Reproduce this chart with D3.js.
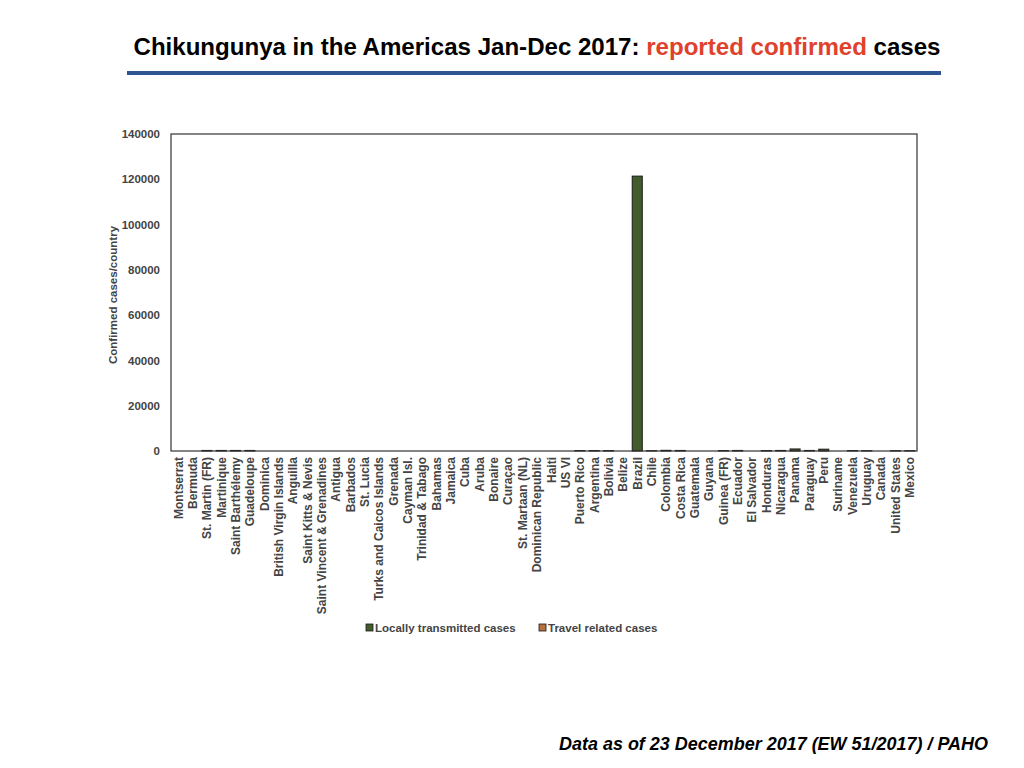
<!DOCTYPE html>
<html lang="en">
<head>
<meta charset="UTF-8">
<script src="https://d3js.org/d3.v7.min.js"></script>
<title>Chikungunya 2017</title>
<style>
  body { margin: 0; background: #fff; }
  text { font-family: "Liberation Sans", Arial, Helvetica, sans-serif; }
</style>
</head>
<body>
<svg id="chart" width="1024" height="768"></svg>
<script>
// countries in the order they appear on the x axis
const countries = ["Montserrat", "Bermuda", "St. Martin (FR)", "Martinique", "Saint Barthélemy", "Guadeloupe",
  "Dominica", "British Virgin Islands", "Anguilla", "Saint Kitts & Nevis", "Saint Vincent & Grenadines",
  "Antigua", "Barbados", "St. Lucia", "Turks and Caicos Islands", "Grenada", "Cayman Isl.", "Trinidad & Tabago",
  "Bahamas", "Jamaica", "Cuba", "Aruba", "Bonaire", "Curaçao", "St. Martaan (NL)", "Dominican Republic",
  "Haiti", "US VI", "Puerto Rico", "Argentina", "Bolivia", "Belize", "Brazil", "Chile", "Colombia",
  "Costa Rica", "Guatemala", "Guyana", "Guinea (FR)", "Ecuador", "El Salvador", "Honduras", "Nicaragua",
  "Panama", "Paraguay", "Peru", "Suriname", "Venezuela", "Uruguay", "Canada", "United States", "Mexico"];

// most are barely above zero
const locallyTransmitted = [0, 0, 250, 250, 250, 250,
  0, 0, 0, 0, 0,
  0, 0, 0, 0, 0, 0, 0,
  0, 0, 0, 0, 0, 0, 0, 0,
  0, 0, 200, 0, 200, 0, 121400, 0, 300,
  250, 0, 0, 200, 250, 0, 200, 250,
  900, 250, 800, 0, 200, 0, 0, 0, 150];

const travelRelated = [0, 0, 0, 0, 0, 0,
  0, 0, 0, 0, 0,
  0, 0, 0, 0, 0, 0, 0,
  0, 0, 0, 0, 0, 0, 0, 0,
  0, 0, 0, 200, 0, 0, 0, 150, 0,
  0, 0, 0, 0, 0, 0, 0, 0,
  0, 0, 0, 0, 0, 150, 0, 150, 0];

const seriesNames = ["Locally transmitted cases", "Travel related cases"];
const seriesColors = ["#435c2b", "#b8703c"];
const yTicks = [0, 20000, 40000, 60000, 80000, 100000, 120000, 140000];

const svg = d3.select("#chart");
const plot = { left: 171, right: 917, top: 134, bottom: 451 };

// title
const title = svg.append("text")
  .attr("x", 537).attr("y", 55)
  .attr("text-anchor", "middle")
  .attr("font-size", 23.5).attr("font-weight", "bold")
  .attr("textLength", 807).attr("lengthAdjust", "spacingAndGlyphs");
title.append("tspan").attr("fill", "#000").text("Chikungunya in the Americas Jan-Dec 2017: ");
title.append("tspan").attr("fill", "#e0412c").text("reported confirmed");
title.append("tspan").attr("fill", "#000").text(" cases");

svg.append("rect")
  .attr("x", 127).attr("y", 71).attr("width", 814).attr("height", 4)
  .attr("fill", "#2c5591");

// scales
const x = d3.scaleBand().domain(countries)
  .range([plot.left, plot.right]).paddingInner(0.3).paddingOuter(0.15);
const y = d3.scaleLinear().domain([0, 140000]).range([plot.bottom, plot.top]);

// stacked data
const rows = countries.map((c, i) => ({ country: c, local: locallyTransmitted[i], travel: travelRelated[i] }));
const stacked = d3.stack().keys(["local", "travel"])(rows);

const layers = svg.append("g").selectAll("g").data(stacked).join("g")
  .attr("fill", (d, i) => seriesColors[i]);
layers.selectAll("rect")
  .data(d => d.filter(v => v[1] - v[0] > 0))
  .join("rect")
  .attr("x", d => x(d.data.country))
  .attr("width", x.bandwidth())
  .attr("y", d => y(d[1]))
  .attr("height", d => y(d[0]) - y(d[1]))
  .attr("stroke", "#1a1a1a").attr("stroke-width", 1);

// frame
svg.append("rect")
  .attr("x", plot.left).attr("y", plot.top)
  .attr("width", plot.right - plot.left).attr("height", plot.bottom - plot.top)
  .attr("fill", "none").attr("stroke", "#333").attr("stroke-width", 1.2);

// y axis
const yAxis = svg.append("g")
  .attr("transform", `translate(${plot.left},0)`)
  .call(d3.axisLeft(y).tickValues(yTicks).tickSize(0).tickPadding(11).tickFormat(d3.format("d")));
yAxis.select(".domain").remove();
yAxis.selectAll("text")
  .attr("font-family", "Liberation Sans, Arial, sans-serif")
  .attr("font-size", 11.5).attr("font-weight", "bold").attr("fill", "#444");

svg.append("text")
  .attr("transform", "translate(117,295) rotate(-90)")
  .attr("text-anchor", "middle")
  .attr("font-size", 11.5).attr("font-weight", "bold").attr("fill", "#444")
  .text("Confirmed cases/country");

// x axis labels, rotated
const xAxis = svg.append("g")
  .attr("transform", `translate(0,${plot.bottom})`)
  .call(d3.axisBottom(x).tickSize(0).tickPadding(0));
xAxis.select(".domain").remove();
xAxis.selectAll("text")
  .attr("font-family", "Liberation Sans, Arial, sans-serif")
  .attr("font-size", 12).attr("font-weight", "bold").attr("fill", "#444")
  .attr("text-anchor", "end")
  .attr("transform", "rotate(-90)")
  .attr("x", -6).attr("y", 0).attr("dy", "0.36em");

// legend
const legendX = [366, 539];
const legend = svg.append("g").selectAll("g").data(seriesNames).join("g")
  .attr("transform", (d, i) => `translate(${legendX[i]},624)`);
legend.append("rect")
  .attr("width", 7).attr("height", 7)
  .attr("fill", (d, i) => seriesColors[i])
  .attr("stroke", "#1a1a1a").attr("stroke-width", 0.8);
legend.append("text")
  .attr("x", 9).attr("y", 7.5)
  .attr("font-size", 11.5).attr("font-weight", "bold").attr("fill", "#444")
  .text(d => d);

// source note
svg.append("text")
  .attr("x", 988).attr("y", 750)
  .attr("text-anchor", "end")
  .attr("font-size", 17.5).attr("font-weight", "bold").attr("font-style", "italic")
  .attr("fill", "#000")
  .attr("textLength", 429).attr("lengthAdjust", "spacingAndGlyphs")
  .text("Data as of 23 December 2017 (EW 51/2017) / PAHO");
</script>
</body>
</html>
